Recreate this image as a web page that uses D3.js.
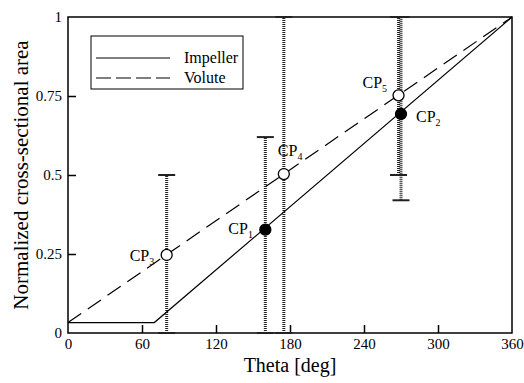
<!DOCTYPE html>
<html>
<head>
<meta charset="utf-8">
<script src="https://cdn.jsdelivr.net/npm/d3@7"></script>
<style>
  body { margin: 0; background: #fff; }
</style>
</head>
<body>
<div id="chart"></div>
<script>
// data
const xTicks = [0, 60, 120, 180, 240, 300, 360];
const yTicks = [0, 0.25, 0.5, 0.75, 1];
const yTickLabels = ['0', '0.25', '0.5', '0.75', '1'];

const impellerTheta = [0, 70, 360];
const impellerArea = [0.033, 0.033, 1];
const voluteTheta = [0, 360];
const voluteArea = [0.033, 1];

const cpNames = ['1', '2', '3', '4', '5'];
const cpTheta = [160, 270, 80, 175, 268];
const cpArea = [0.327, 0.693, 0.247, 0.503, 0.752];
const cpFilled = [true, true, false, false, false];
const cpLow = [0, 0.42, 0, 0, 0.5];
const cpHigh = [0.62, 1, 0.5, 1, 1];

const serif = 'Liberation Serif, DejaVu Serif, serif';
const width = 524;
const height = 383;
const margin = { left: 68, right: 12, top: 17, bottom: 50 };

const svg = d3.select('#chart')
  .append('svg')
  .attr('width', width)
  .attr('height', height)
  .style('font-family', serif);

const x = d3.scaleLinear()
  .domain([0, 360])
  .range([margin.left, width - margin.right]);

const y = d3.scaleLinear()
  .domain([0, 1])
  .range([height - margin.bottom, margin.top]);

// axes, ticks pointing inwards
const xAxis = svg.append('g')
  .attr('transform', `translate(0, ${height - margin.bottom})`)
  .call(d3.axisBottom(x).tickValues(xTicks).tickSizeInner(-8).tickSizeOuter(0).tickPadding(5));
xAxis.attr('font-family', null).attr('font-size', 15);
xAxis.select('.domain').remove();
xAxis.selectAll('.tick line')
  .attr('stroke-width', 1.5)
  .filter(d => d === 0 || d === 360).remove();
xAxis.selectAll('.tick text').attr('fill', '#000');

const yAxis = svg.append('g')
  .attr('transform', `translate(${margin.left}, 0)`)
  .call(d3.axisLeft(y).tickValues(yTicks).tickFormat((d, i) => yTickLabels[i])
    .tickSizeInner(-8).tickSizeOuter(0).tickPadding(6));
yAxis.attr('font-family', null).attr('font-size', 15);
yAxis.select('.domain').remove();
yAxis.selectAll('.tick line')
  .attr('stroke-width', 1.5)
  .filter(d => d === 0 || d === 1).remove();
yAxis.selectAll('.tick text').attr('fill', '#000');

// frame
svg.append('rect')
  .attr('x', x(0))
  .attr('y', y(1))
  .attr('width', x(360) - x(0))
  .attr('height', y(0) - y(1))
  .attr('fill', 'none')
  .attr('stroke', '#000')
  .attr('stroke-width', 1.5);

// axis titles
svg.append('text')
  .attr('x', (x(0) + x(360)) / 2)
  .attr('y', 372)
  .attr('text-anchor', 'middle')
  .attr('font-size', 20)
  .text('Theta [deg]');

svg.append('text')
  .attr('transform', `translate(28, ${(y(0) + y(1)) / 2}) rotate(-90)`)
  .attr('text-anchor', 'middle')
  .attr('font-size', 21)
  .text('Normalized cross-sectional area');

// error bars
const cps = cpNames.map((n, i) => ({
  name: n, theta: cpTheta[i], area: cpArea[i], filled: cpFilled[i], lo: cpLow[i], hi: cpHigh[i],
}));

const bars = svg.append('g');
bars.selectAll('line.err')
  .data(cps)
  .enter()
  .append('line')
  .attr('class', 'err')
  .attr('x1', d => x(d.theta))
  .attr('x2', d => x(d.theta))
  .attr('y1', d => y(d.lo))
  .attr('y2', d => y(d.hi))
  .attr('stroke', '#222')
  .attr('stroke-width', 3)
  .attr('stroke-dasharray', '1,1');

const caps = cps.flatMap(d => [{ theta: d.theta, v: d.lo }, { theta: d.theta, v: d.hi }]);
bars.selectAll('line.cap')
  .data(caps)
  .enter()
  .append('line')
  .attr('class', 'cap')
  .attr('x1', d => x(d.theta) - 8.5)
  .attr('x2', d => x(d.theta) + 8.5)
  .attr('y1', d => y(d.v))
  .attr('y2', d => y(d.v))
  .attr('stroke', '#222')
  .attr('stroke-width', 2);

// lines
const line = d3.line().x(d => x(d[0])).y(d => y(d[1]));

svg.append('path')
  .datum(impellerTheta.map((t, i) => [t, impellerArea[i]]))
  .attr('d', line)
  .attr('fill', 'none')
  .attr('stroke', '#000')
  .attr('stroke-width', 1.2);

svg.append('path')
  .datum(voluteTheta.map((t, i) => [t, voluteArea[i]]))
  .attr('d', line)
  .attr('fill', 'none')
  .attr('stroke', '#000')
  .attr('stroke-width', 1.2)
  .attr('stroke-dasharray', '16,8');

// points
svg.append('g')
  .selectAll('circle')
  .data(cps)
  .enter()
  .append('circle')
  .attr('cx', d => x(d.theta))
  .attr('cy', d => y(d.area))
  .attr('r', 5.5)
  .attr('fill', d => (d.filled ? '#000' : '#fff'))
  .attr('stroke', '#000')
  .attr('stroke-width', 1.3);

// point labels
const labelOffset = {
  1: [-37, 4], 2: [15, 8], 3: [-37, 6], 4: [-6, -18], 5: [-36, -7],
};
const labels = svg.append('g')
  .selectAll('text')
  .data(cps)
  .enter()
  .append('text')
  .attr('x', d => x(d.theta) + labelOffset[d.name][0])
  .attr('y', d => y(d.area) + labelOffset[d.name][1])
  .attr('font-size', 16);
labels.append('tspan').text('CP');
labels.append('tspan')
  .attr('dy', 4)
  .attr('font-size', 10)
  .text(d => d.name);

// legend
const legend = svg.append('g').attr('transform', 'translate(91, 36)');
legend.append('rect')
  .attr('width', 152)
  .attr('height', 53)
  .attr('fill', '#fff')
  .attr('stroke', '#000')
  .attr('stroke-width', 1);
legend.append('line')
  .attr('x1', 5).attr('x2', 79).attr('y1', 22).attr('y2', 22)
  .attr('stroke', '#000').attr('stroke-width', 1.2);
legend.append('line')
  .attr('x1', 5).attr('x2', 79).attr('y1', 42).attr('y2', 42)
  .attr('stroke', '#000').attr('stroke-width', 1.2)
  .attr('stroke-dasharray', '15,5');
legend.append('text').attr('x', 93).attr('y', 27).attr('font-size', 16).text('Impeller');
legend.append('text').attr('x', 93).attr('y', 47).attr('font-size', 16).text('Volute');
</script>
</body>
</html>
